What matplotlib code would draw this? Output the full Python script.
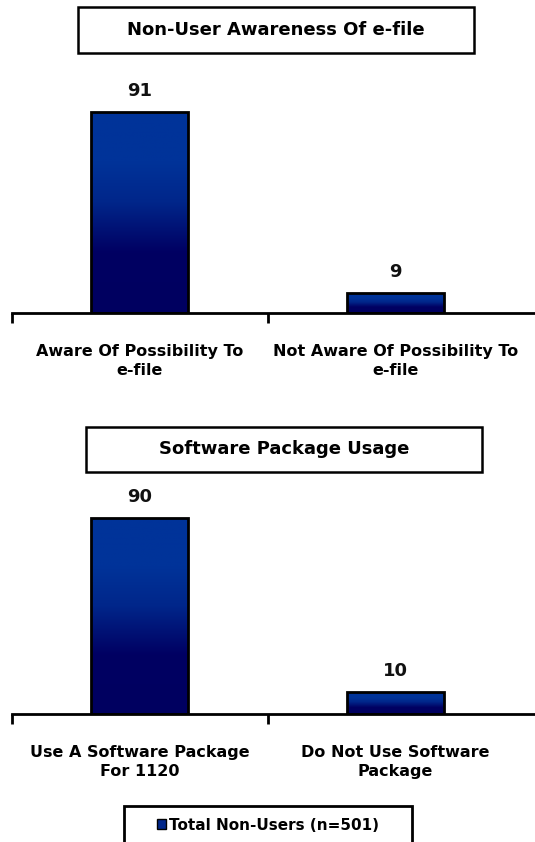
import numpy as np
import matplotlib
matplotlib.use('Agg')
import matplotlib.pyplot as plt
from matplotlib.patches import Rectangle
from matplotlib.colors import LinearSegmentedColormap

# data
awareness_labels = ['Aware Of Possibility To\ne-file', 'Not Aware Of Possibility To\ne-file']
awareness_values = [91, 9]
software_labels = ['Use A Software Package\nFor 1120', 'Do Not Use Software\nPackage']
software_values = [90, 10]
titles = ['Non-User Awareness Of e-file', 'Software Package Usage']
series_name = 'Total Non-Users (n=501)'

W, H = 535, 842
plt.rcParams['font.family'] = ['DejaVu Sans']
fig = plt.figure(figsize=(W / 100, H / 100), dpi=100)

# gradient: lighter blue on top, dark navy at the bottom
grad_cmap = LinearSegmentedColormap.from_list(
    'navy', [(0.0, '#000060'), (0.3, '#000062'), (0.55, '#00268a'), (0.75, '#003399'), (1.0, '#003399')])


def px_box(x0, y0, x1, y1):
    # pixel box (from top-left) -> figure fraction rect
    return [x0 / W, 1 - y1 / H, (x1 - x0) / W, (y1 - y0) / H]


def draw_chart(rect, labels, values, title, title_box, title_y):
    ax = fig.add_axes(rect)
    x = np.arange(len(values))
    bars = ax.bar(x, values, width=0.38, color='none', edgecolor='black',
                  linewidth=2, zorder=3)
    grad = np.linspace(0, 1, 256).reshape(-1, 1)
    for b in bars:
        bx, bw, bh = b.get_x(), b.get_width(), b.get_height()
        im = ax.imshow(grad, cmap=grad_cmap, origin='lower', aspect='auto',
                       extent=[bx, bx + bw, 0, bh], zorder=2)
        im.set_clip_path(b)
        ax.text(bx + bw / 2, bh + 5.5, str(int(bh)), ha='center', va='bottom',
                fontsize=13, fontweight='bold', color='#111111')
    ax.set_xlim(-0.5, -0.5 + (W - 11) / 256)
    ax.set_ylim(0, 100)
    for s in ['top', 'right', 'left']:
        ax.spines[s].set_visible(False)
    ax.spines['bottom'].set_linewidth(2)
    ax.set_yticks([])
    ax.set_xticks(x)
    ax.set_xticklabels(labels, fontsize=11.5, fontweight='heavy', linespacing=1.4)
    ax.tick_params(axis='x', which='major', length=0, pad=22)
    ax.set_xticks([-0.5, 0.5], minor=True)
    ax.tick_params(axis='x', which='minor', length=7, width=2, direction='out')
    # title box
    fig.patches.append(Rectangle((title_box[0], title_box[1]), title_box[2], title_box[3],
                                 transform=fig.transFigure, facecolor='white',
                                 edgecolor='black', linewidth=1.8))
    fig.text(title_box[0] + title_box[2] / 2, title_y, title, ha='center', va='center',
             fontsize=13, fontweight='bold')
    return ax


ax1 = draw_chart([12 / W, 1 - 313 / H, (W - 12) / W, 221 / H],
                 awareness_labels, awareness_values, titles[0],
                 px_box(78, 7, 474, 53), 1 - 30 / H)
ax2 = draw_chart([12 / W, 1 - 714 / H, (W - 12) / W, 218 / H],
                 software_labels, software_values, titles[1],
                 px_box(86, 427, 482, 472), 1 - 449 / H)

# legend box
lb = px_box(124, 806, 412, 845)
fig.patches.append(Rectangle((lb[0], lb[1]), lb[2], lb[3], transform=fig.transFigure,
                             facecolor='white', edgecolor='black', linewidth=2))
handle = Rectangle((0, 0), 1, 1, facecolor='#00268a', edgecolor='black', linewidth=1)
fig.legend([handle], [series_name], loc='center', bbox_to_anchor=(268 / W, 1 - 825 / H),
           frameon=False, handlelength=0.6, handleheight=0.6, handletextpad=0.2,
           prop={'weight': 'heavy', 'size': 11})

fig.savefig('out.png', dpi=100)
